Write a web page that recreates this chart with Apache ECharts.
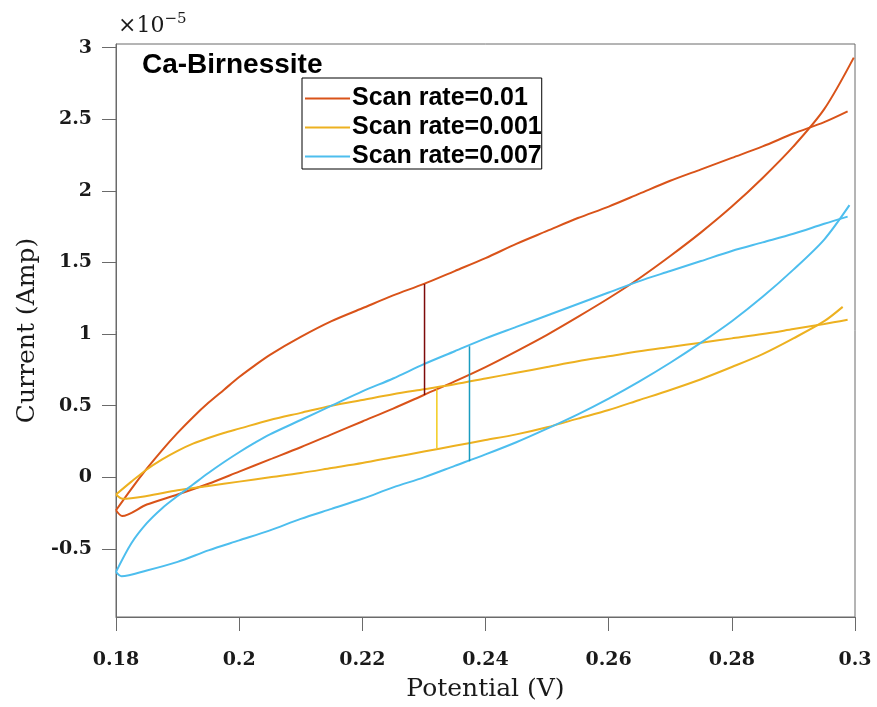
<!DOCTYPE html>
<html>
<head>
<meta charset="utf-8">
<script src="https://cdn.jsdelivr.net/npm/echarts@6/dist/echarts.min.js"></script>
<style>
html,body{margin:0;padding:0;background:#fff;}
#chart{width:877px;height:707px;}
</style>
</head>
<body>
<div id="chart"></div>
<script>
// Values in units of 1e-5 A; potential in V
const seriesNames = ['Scan rate=0.01', 'Scan rate=0.001', 'Scan rate=0.007'];
const xTicks = [0.18, 0.2, 0.22, 0.24, 0.26, 0.28, 0.3];
const yTicks = [-0.5, 0, 0.5, 1, 1.5, 2, 2.5, 3];

// Scan rate 0.01 : upper (reverse) branch and lower (forward) branch
const rate01Upper = [[0.18,-0.23],[0.1825,-0.08],[0.185,0.06],[0.1875,0.19],[0.19,0.31],[0.1925,0.42],[0.195,0.52],[0.1975,0.61],[0.20,0.70],[0.2025,0.78],[0.205,0.855],[0.21,0.98],[0.215,1.09],[0.22,1.18],[0.225,1.27],[0.23,1.35],[0.235,1.44],[0.24,1.53],[0.245,1.63],[0.25,1.72],[0.255,1.81],[0.26,1.89],[0.265,1.98],[0.27,2.07],[0.275,2.15],[0.28,2.23],[0.285,2.31],[0.29,2.40],[0.295,2.48],[0.2988,2.555]];
const rate01Lower = [[0.181,-0.27],[0.185,-0.19],[0.19,-0.12],[0.195,-0.045],[0.20,0.04],[0.205,0.125],[0.21,0.21],[0.215,0.30],[0.22,0.39],[0.225,0.48],[0.23,0.575],[0.235,0.67],[0.24,0.77],[0.245,0.88],[0.25,0.995],[0.255,1.12],[0.26,1.25],[0.265,1.39],[0.27,1.545],[0.275,1.71],[0.28,1.89],[0.285,2.09],[0.29,2.31],[0.295,2.57],[0.2998,2.93]];

// Scan rate 0.001
const rate001Upper = [[0.18,-0.12],[0.1825,-0.03],[0.185,0.055],[0.1875,0.125],[0.19,0.185],[0.1925,0.235],[0.195,0.275],[0.1975,0.31],[0.20,0.34],[0.205,0.40],[0.21,0.45],[0.215,0.50],[0.22,0.54],[0.225,0.58],[0.23,0.615],[0.235,0.65],[0.24,0.69],[0.245,0.73],[0.25,0.77],[0.255,0.81],[0.26,0.845],[0.265,0.88],[0.27,0.91],[0.275,0.94],[0.28,0.97],[0.285,1.00],[0.29,1.035],[0.295,1.07],[0.2988,1.10]];
const rate001Lower = [[0.1811,-0.15],[0.185,-0.13],[0.19,-0.09],[0.195,-0.06],[0.20,-0.03],[0.205,0.00],[0.21,0.03],[0.215,0.065],[0.22,0.10],[0.225,0.14],[0.23,0.18],[0.235,0.22],[0.24,0.26],[0.245,0.30],[0.25,0.35],[0.255,0.41],[0.26,0.47],[0.265,0.54],[0.27,0.61],[0.275,0.685],[0.28,0.77],[0.285,0.86],[0.29,0.97],[0.295,1.09],[0.298,1.19]];

// Scan rate 0.007
const rate007Upper = [[0.18,-0.66],[0.1825,-0.46],[0.185,-0.32],[0.1875,-0.215],[0.19,-0.13],[0.1925,-0.05],[0.195,0.03],[0.1975,0.105],[0.20,0.175],[0.2025,0.24],[0.205,0.30],[0.21,0.40],[0.215,0.50],[0.22,0.60],[0.225,0.69],[0.23,0.79],[0.235,0.88],[0.24,0.97],[0.245,1.05],[0.25,1.13],[0.255,1.21],[0.26,1.29],[0.265,1.37],[0.27,1.44],[0.275,1.51],[0.28,1.58],[0.285,1.64],[0.29,1.70],[0.295,1.77],[0.2988,1.82]];
const rate007Lower = [[0.1809,-0.69],[0.185,-0.65],[0.19,-0.59],[0.195,-0.51],[0.20,-0.44],[0.205,-0.37],[0.21,-0.29],[0.215,-0.22],[0.22,-0.15],[0.225,-0.07],[0.23,0.00],[0.235,0.08],[0.24,0.16],[0.245,0.245],[0.25,0.34],[0.255,0.44],[0.26,0.55],[0.265,0.67],[0.27,0.80],[0.275,0.94],[0.28,1.09],[0.285,1.26],[0.29,1.45],[0.295,1.66],[0.2991,1.90]];

// Vertical marker segments (capacitive current gaps)
const marker01 = [[0.2301,1.35],[0.2301,0.575]];
const marker001 = [[0.2321,0.615],[0.2321,0.205]];
const marker007 = [[0.2374,0.915],[0.2374,0.112]];

const colors = ['#D95319', '#EDB120', '#4DBEEE'];
const markerColors = ['#7E0A0A', '#F3CB1C', '#1A9CC0'];

const chart = echarts.init(document.getElementById('chart'), null, {renderer: 'canvas'});
const axisGray = '#6a6a6a';
const serif = 'DejaVu Serif';

function lineSeries(name, data, color, width, z, smooth) {
  return {
    name: name, type: 'line', data: data, showSymbol: false, symbol: 'none',
    smooth: smooth, lineStyle: {color: color, width: width}, itemStyle: {color: color},
    animation: false, z: z, silent: true
  };
}
// upper branch and lower branch (joined to upper's start) drawn as two smooth series sharing one legend name
function branches(name, upper, lower, color) {
  return [
    lineSeries(name, upper, color, 2, 3, 0.3),
    lineSeries(name, [upper[0]].concat(lower), color, 2, 3, 0.3)
  ];
}

chart.setOption({
  animation: false,
  grid: {left: 116, right: 22, top: 44, bottom: 89, show: true, borderColor: axisGray, borderWidth: 1},
  xAxis: {
    type: 'value', min: 0.18, max: 0.3,
    name: 'Potential (V)', nameLocation: 'middle', nameGap: 60,
    nameTextStyle: {fontFamily: serif, fontSize: 25, color: '#1a1a1a'},
    axisLine: {show: true, onZero: false, lineStyle: {color: axisGray, width: 1}},
    axisTick: {show: true, inside: false, length: 14, lineStyle: {color: axisGray}, customValues: xTicks},
    axisLabel: {customValues: xTicks, margin: 34, fontFamily: serif, fontWeight: 'bold', fontSize: 19, color: '#1a1a1a',
      formatter: v => String(+v.toFixed(2))},
    splitLine: {show: false}
  },
  yAxis: {
    type: 'value', min: -0.975, max: 3.025,
    name: 'Current (Amp)', nameLocation: 'middle', nameGap: 73, nameRotate: 90,
    nameTextStyle: {fontFamily: serif, fontSize: 25, color: '#1a1a1a'},
    axisLine: {show: true, onZero: false, lineStyle: {color: axisGray, width: 1}},
    axisTick: {show: true, inside: false, length: 14, lineStyle: {color: axisGray}, customValues: yTicks},
    axisLabel: {customValues: yTicks, margin: 24, fontFamily: serif, fontWeight: 'bold', fontSize: 19, color: '#1a1a1a',
      formatter: v => String(+v.toFixed(2))},
    splitLine: {show: false}
  },
  legend: {
    data: seriesNames,
    orient: 'vertical', left: 302, top: 78,
    padding: [8, 0, 0, 3], itemGap: 4,
    itemWidth: 45, itemHeight: 2, icon: 'rect',
    borderColor: '#000', borderWidth: 1, backgroundColor: '#fff',
    textStyle: {fontFamily: 'Liberation Sans', fontWeight: 'bold', fontSize: 25, color: '#000', padding: [0, 0, 0, -3]},
    selectedMode: false
  },
  graphic: [
    {type: 'text', left: 118, top: 12, silent: true,
      style: {text: '{a|×10}{b|−5}', rich: {
        a: {fontFamily: serif, fontSize: 22, fill: '#1a1a1a', verticalAlign: 'bottom'},
        b: {fontFamily: serif, fontSize: 15, fill: '#1a1a1a', verticalAlign: 'top', padding: [0, 0, 10, 0]}
      }}},
    {type: 'text', left: 142, top: 51, silent: true,
      style: {text: 'Ca-Birnessite', fontFamily: 'Liberation Sans', fontWeight: 'bold', fontSize: 28, fill: '#000'}}
  ],
  series: [].concat(
    branches(seriesNames[0], rate01Upper, rate01Lower, colors[0]),
    branches(seriesNames[1], rate001Upper, rate001Lower, colors[1]),
    branches(seriesNames[2], rate007Upper, rate007Lower, colors[2]),
    [
      lineSeries('m01', marker01, markerColors[0], 1.5, 4, false),
      lineSeries('m001', marker001, markerColors[1], 1.5, 4, false),
      lineSeries('m007', marker007, markerColors[2], 1.5, 4, false)
    ]
  )
});
</script>
</body>
</html>
